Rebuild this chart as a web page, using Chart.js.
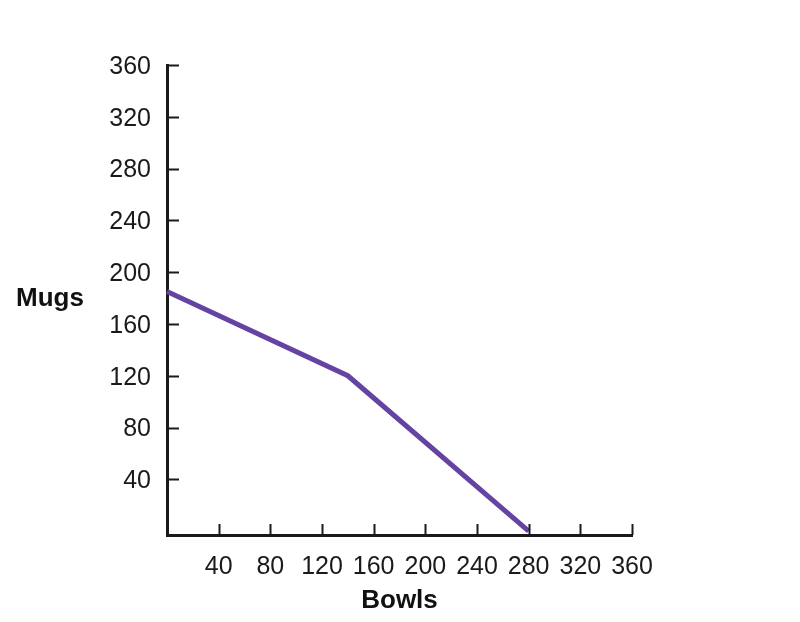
<!DOCTYPE html>
<html>
<head>
<meta charset="utf-8">
<script src="https://cdn.jsdelivr.net/npm/chart.js@4.4.0/dist/chart.umd.min.js"></script>
<style>
html,body{margin:0;padding:0;background:#fff;}
#wrap{width:800px;height:622px;}
</style>
</head>
<body>
<div id="wrap"><canvas id="c" width="800" height="622"></canvas></div>
<script>
const bowls = [0, 140, 280];
const mugs = [185, 120, 0];
const tickValues = [40, 80, 120, 160, 200, 240, 280, 320, 360];
const xTitle = 'Bowls';
const yTitle = 'Mugs';

const FONT = '"Liberation Sans", Arial, sans-serif';

const inwardTicks = {
  id: 'inwardTicks',
  afterDatasetsDraw(chart) {
    const ctx = chart.ctx;
    const xs = chart.scales.x, ys = chart.scales.y;
    const ca = chart.chartArea;
    ctx.save();
    ctx.strokeStyle = '#1a1a1a';
    ctx.lineWidth = 2;
    tickValues.forEach(v => {
      const py = Math.round(ys.getPixelForValue(v)) + 0.5;
      ctx.beginPath(); ctx.moveTo(ca.left, py); ctx.lineTo(ca.left + 12, py); ctx.stroke();
      const px = Math.round(xs.getPixelForValue(v)) + 0.5;
      ctx.beginPath(); ctx.moveTo(px, ca.bottom); ctx.lineTo(px, ca.bottom - 11); ctx.stroke();
    });
    ctx.fillStyle = '#111';
    ctx.font = 'bold 26px ' + FONT;
    ctx.textAlign = 'left';
    ctx.textBaseline = 'alphabetic';
    ctx.fillText(yTitle, 16, 306);
    ctx.restore();
  }
};

new Chart(document.getElementById('c'), {
  type: 'line',
  data: {
    datasets: [{
      data: bowls.map((b, i) => ({x: b, y: mugs[i]})),
      borderColor: '#6543a3',
      borderWidth: 5,
      pointRadius: 0,
      tension: 0,
      fill: false,
      clip: false
    }]
  },
  options: {
    responsive: false,
    animation: false,
    plugins: {legend: {display: false}, tooltip: {enabled: false}},
    layout: {padding: {top: 65, right: 168, left: 0, bottom: 0}},
    scales: {
      x: {
        type: 'linear', min: 0, max: 360,
        afterBuildTicks: s => { s.ticks = [0].concat(tickValues).map(v => ({value: v})); },
        afterFit: s => { s.height = 87; },
        grid: {display: false, drawTicks: false},
        border: {display: true, color: '#1a1a1a', width: 3},
        ticks: {
          padding: 17, color: '#1a1a1a', maxRotation: 0, autoSkip: false,
          font: {family: FONT, size: 25},
          callback: v => v === 0 ? '' : v
        },
        title: {display: true, text: xTitle, color: '#111', padding: {top: 0, bottom: 6},
          font: {family: FONT, size: 26, weight: 'bold'}}
      },
      y: {
        type: 'linear', min: -3, max: 360,
        afterBuildTicks: s => { s.ticks = [-3].concat(tickValues).map(v => ({value: v})); },
        afterFit: s => { s.width = 167; },
        grid: {display: false, drawTicks: false},
        border: {display: true, color: '#1a1a1a', width: 3},
        ticks: {
          padding: 16, color: '#1a1a1a', autoSkip: false, labelOffset: 2,
          font: {family: FONT, size: 25},
          callback: v => v < 40 ? '' : v
        }
      }
    }
  },
  plugins: [inwardTicks]
});
</script>
</body>
</html>
